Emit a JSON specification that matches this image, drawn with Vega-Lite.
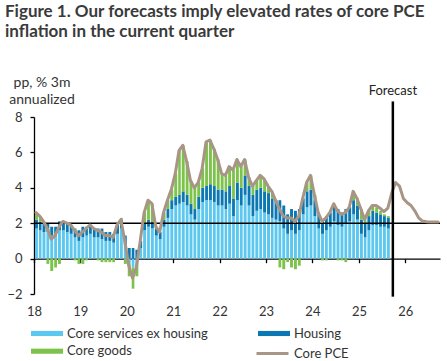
{
  "$schema": "https://vega.github.io/schema/vega-lite/v6.json",
  "width": 406,
  "height": 177,
  "autosize": "none",
  "padding": {"left": 34, "top": 117, "right": 7, "bottom": 67},
  "background": "white",
  "config": {
    "font": "Lato",
    "view": {"stroke": null},
    "axis": {"grid": false, "labelFont": "Lato", "titleFont": "Lato"},
    "axisY": {"labelOverlap": false, "labelFlush": false},
    "axisX": {"labelOverlap": false, "labelFlush": false},
    "legend": {"labelFont": "Lato"}
  },
  "title": {
    "text": ["Figure 1. Our forecasts imply elevated rates of core PCE", "inflation in the current quarter"],
    "anchor": "start",
    "frame": "group",
    "dx": -29,
    "offset": 34,
    "fontSize": 17,
    "font": "Lato",
    "fontWeight": "bold",
    "color": "#3a3a3a",
    "lineHeight": 20
  },
  "datasets": {
    "m": [
      {"d":"2018-01-01","S":1.7,"H":0.5,"G":0.4,"P":2.6},
      {"d":"2018-02-01","S":1.6,"H":0.5,"G":0.3,"P":2.4},
      {"d":"2018-03-01","S":1.5,"H":0.5,"G":0.1,"P":2.1},
      {"d":"2018-04-01","S":1.5,"H":0.5,"G":-0.3,"P":1.7},
      {"d":"2018-05-01","S":1.3,"H":0.5,"G":-0.7,"P":1.1},
      {"d":"2018-06-01","S":1.3,"H":0.5,"G":-0.5,"P":1.3},
      {"d":"2018-07-01","S":1.6,"H":0.5,"G":-0.3,"P":1.8},
      {"d":"2018-08-01","S":1.6,"H":0.5,"G":0.0,"P":2.1},
      {"d":"2018-09-01","S":1.5,"H":0.5,"G":0.0,"P":2.0},
      {"d":"2018-10-01","S":1.4,"H":0.5,"G":0.0,"P":1.9},
      {"d":"2018-11-01","S":1.2,"H":0.5,"G":-0.1,"P":1.6},
      {"d":"2018-12-01","S":1.0,"H":0.6,"G":-0.3,"P":1.3},
      {"d":"2019-01-01","S":1.2,"H":0.6,"G":-0.3,"P":1.5},
      {"d":"2019-02-01","S":1.3,"H":0.5,"G":-0.1,"P":1.7},
      {"d":"2019-03-01","S":1.4,"H":0.5,"G":0.0,"P":1.9},
      {"d":"2019-04-01","S":1.2,"H":0.5,"G":0.0,"P":1.7},
      {"d":"2019-05-01","S":1.2,"H":0.5,"G":-0.1,"P":1.6},
      {"d":"2019-06-01","S":1.1,"H":0.6,"G":-0.2,"P":1.5},
      {"d":"2019-07-01","S":1.0,"H":0.5,"G":-0.2,"P":1.3},
      {"d":"2019-08-01","S":1.0,"H":0.5,"G":-0.2,"P":1.3},
      {"d":"2019-09-01","S":0.9,"H":0.5,"G":-0.2,"P":1.2},
      {"d":"2019-10-01","S":1.4,"H":0.5,"G":0.0,"P":1.9},
      {"d":"2019-11-01","S":1.7,"H":0.5,"G":0.1,"P":2.2},
      {"d":"2019-12-01","S":0.8,"H":0.5,"G":-0.3,"P":1.0},
      {"d":"2020-01-01","S":-0.3,"H":0.6,"G":-0.7,"P":-0.4},
      {"d":"2020-02-01","S":-0.5,"H":0.6,"G":-1.2,"P":-1.1},
      {"d":"2020-03-01","S":-0.3,"H":0.5,"G":-0.7,"P":-0.5},
      {"d":"2020-04-01","S":0.6,"H":0.4,"G":0.0,"P":1.0},
      {"d":"2020-05-01","S":1.6,"H":0.4,"G":0.6,"P":2.6},
      {"d":"2020-06-01","S":1.8,"H":0.4,"G":1.1,"P":3.3},
      {"d":"2020-07-01","S":1.7,"H":0.4,"G":1.0,"P":3.1},
      {"d":"2020-08-01","S":1.3,"H":0.4,"G":0.1,"P":1.8},
      {"d":"2020-09-01","S":1.1,"H":0.4,"G":0.0,"P":1.5},
      {"d":"2020-10-01","S":1.8,"H":0.4,"G":0.4,"P":2.6},
      {"d":"2020-11-01","S":2.3,"H":0.5,"G":0.5,"P":3.3},
      {"d":"2020-12-01","S":2.8,"H":0.5,"G":0.6,"P":3.9},
      {"d":"2021-01-01","S":3.0,"H":0.5,"G":1.3,"P":4.8},
      {"d":"2021-02-01","S":3.1,"H":0.5,"G":2.5,"P":6.1},
      {"d":"2021-03-01","S":3.2,"H":0.6,"G":2.6,"P":6.4},
      {"d":"2021-04-01","S":3.0,"H":0.6,"G":1.9,"P":5.5},
      {"d":"2021-05-01","S":2.5,"H":0.6,"G":1.3,"P":4.4},
      {"d":"2021-06-01","S":2.2,"H":0.6,"G":1.2,"P":4.0},
      {"d":"2021-07-01","S":2.8,"H":0.7,"G":0.8,"P":4.3},
      {"d":"2021-08-01","S":3.2,"H":0.8,"G":1.1,"P":5.1},
      {"d":"2021-09-01","S":3.3,"H":0.8,"G":2.5,"P":6.6},
      {"d":"2021-10-01","S":3.3,"H":0.9,"G":2.5,"P":6.7},
      {"d":"2021-11-01","S":3.2,"H":0.9,"G":2.1,"P":6.2},
      {"d":"2021-12-01","S":3.0,"H":0.9,"G":1.7,"P":5.6},
      {"d":"2022-01-01","S":3.0,"H":0.9,"G":0.9,"P":4.8},
      {"d":"2022-02-01","S":2.8,"H":1.0,"G":0.9,"P":4.7},
      {"d":"2022-03-01","S":3.1,"H":1.0,"G":1.1,"P":5.2},
      {"d":"2022-04-01","S":2.4,"H":1.0,"G":1.6,"P":5.0},
      {"d":"2022-05-01","S":3.3,"H":1.0,"G":1.3,"P":5.6},
      {"d":"2022-06-01","S":3.0,"H":1.0,"G":1.2,"P":5.2},
      {"d":"2022-07-01","S":3.6,"H":1.1,"G":0.9,"P":5.6},
      {"d":"2022-08-01","S":3.0,"H":1.1,"G":0.5,"P":4.6},
      {"d":"2022-09-01","S":2.4,"H":1.2,"G":0.5,"P":4.1},
      {"d":"2022-10-01","S":2.7,"H":1.2,"G":0.5,"P":4.4},
      {"d":"2022-11-01","S":2.8,"H":1.2,"G":0.7,"P":4.7},
      {"d":"2022-12-01","S":2.6,"H":1.2,"G":0.7,"P":4.5},
      {"d":"2023-01-01","S":2.5,"H":1.2,"G":0.4,"P":4.1},
      {"d":"2023-02-01","S":2.3,"H":1.1,"G":0.4,"P":3.8},
      {"d":"2023-03-01","S":2.2,"H":1.1,"G":0.0,"P":3.3},
      {"d":"2023-04-01","S":2.1,"H":1.2,"G":-0.5,"P":2.8},
      {"d":"2023-05-01","S":1.7,"H":1.3,"G":-0.6,"P":2.4},
      {"d":"2023-06-01","S":1.4,"H":1.1,"G":-0.2,"P":2.3},
      {"d":"2023-07-01","S":1.6,"H":1.2,"G":-0.5,"P":2.3},
      {"d":"2023-08-01","S":1.4,"H":1.3,"G":-0.6,"P":2.1},
      {"d":"2023-09-01","S":1.6,"H":1.2,"G":-0.4,"P":2.4},
      {"d":"2023-10-01","S":2.5,"H":0.9,"G":0.0,"P":3.4},
      {"d":"2023-11-01","S":2.9,"H":0.9,"G":0.5,"P":4.3},
      {"d":"2023-12-01","S":3.0,"H":0.9,"G":0.8,"P":4.7},
      {"d":"2024-01-01","S":2.4,"H":0.9,"G":0.3,"P":3.6},
      {"d":"2024-02-01","S":1.7,"H":0.8,"G":0.1,"P":2.6},
      {"d":"2024-03-01","S":1.4,"H":0.8,"G":-0.1,"P":2.1},
      {"d":"2024-04-01","S":1.6,"H":0.8,"G":-0.1,"P":2.3},
      {"d":"2024-05-01","S":1.8,"H":0.8,"G":0.0,"P":2.6},
      {"d":"2024-06-01","S":2.1,"H":0.9,"G":0.1,"P":3.1},
      {"d":"2024-07-01","S":1.9,"H":0.9,"G":-0.1,"P":2.7},
      {"d":"2024-08-01","S":1.8,"H":0.8,"G":-0.1,"P":2.5},
      {"d":"2024-09-01","S":2.0,"H":0.8,"G":-0.2,"P":2.6},
      {"d":"2024-10-01","S":2.1,"H":0.8,"G":0.0,"P":2.9},
      {"d":"2024-11-01","S":2.5,"H":0.8,"G":0.5,"P":3.8},
      {"d":"2024-12-01","S":2.2,"H":0.8,"G":0.4,"P":3.4},
      {"d":"2025-01-01","S":1.4,"H":0.8,"G":0.6,"P":2.8},
      {"d":"2025-02-01","S":1.2,"H":0.8,"G":0.2,"P":2.2},
      {"d":"2025-03-01","S":1.6,"H":0.8,"G":0.3,"P":2.7},
      {"d":"2025-04-01","S":1.9,"H":0.8,"G":0.3,"P":3.0},
      {"d":"2025-05-01","S":1.9,"H":0.7,"G":0.3,"P":3.0},
      {"d":"2025-06-01","S":1.8,"H":0.7,"G":0.2,"P":2.85},
      {"d":"2025-07-01","S":1.8,"H":0.6,"G":0.1,"P":2.65},
      {"d":"2025-08-01","S":1.7,"H":0.6,"G":0.1,"P":2.85},
      {"d":"2025-09-01","P":3.7},
      {"d":"2025-10-01","P":4.3},
      {"d":"2025-11-01","P":4.1},
      {"d":"2025-12-01","P":3.4},
      {"d":"2026-01-01","P":3.15},
      {"d":"2026-02-01","P":3.0},
      {"d":"2026-03-01","P":2.7},
      {"d":"2026-04-01","P":2.3},
      {"d":"2026-05-01","P":2.12},
      {"d":"2026-06-01","P":2.08},
      {"d":"2026-07-01","P":2.07},
      {"d":"2026-08-01","P":2.07},
      {"d":"2026-09-01","P":2.07}
    ],
    "f": [
      {"d":"2025-09-25","top":8.88,"bottom":-2.15,"y":9.45,"label":"Forecast","ref":2}
    ]
  },
  "layer": [
    {
      "data": {"name": "m"},
      "transform": [
        {"fold": ["S","H","G"], "as": ["k","v"]},
        {"filter": "isValid(datum.v)"}
      ],
      "mark": {"type": "bar"},
      "encoding": {
        "x": {
          "field": "d", "timeUnit": "utcyearmonth", "type": "temporal",
          "scale": {"domain": [{"year":2018,"month":1,"date":1,"utc":true},{"year":2026,"month":10,"date":1,"utc":true}]},
          "axis": {
            "orient": "bottom",
            "offset": -35.3,
            "values": [
              {"year":2018,"month":1,"date":1,"utc":true},
              {"year":2019,"month":1,"date":1,"utc":true},
              {"year":2020,"month":1,"date":1,"utc":true},
              {"year":2021,"month":1,"date":1,"utc":true},
              {"year":2022,"month":1,"date":1,"utc":true},
              {"year":2023,"month":1,"date":1,"utc":true},
              {"year":2024,"month":1,"date":1,"utc":true},
              {"year":2025,"month":1,"date":1,"utc":true},
              {"year":2026,"month":1,"date":1,"utc":true}
            ],
            "format": "%y",
            "title": null,
            "domainColor": "#000",
            "domainWidth": 1.3,
            "tickColor": "#000",
            "tickWidth": 1.3,
            "tickSize": 4,
            "labelPadding": 43,
            "labelFontSize": 13,
            "labelColor": "#333",
            "labelFlush": false,
            "labelOverlap": false
          }
        },
        "y": {
          "field": "v", "type": "quantitative", "stack": "zero",
          "scale": {"domain": [-2, 8], "nice": false, "zero": false},
          "axis": {
            "values": [-2, 0, 2, 4, 6, 8],
            "title": ["pp, % 3m", "annualized"],
            "titleAngle": 0,
            "titleAlign": "center",
            "titleBaseline": "top",
            "titleX": 7.5,
            "titleY": -42,
            "titleFontSize": 14,
            "titleFontWeight": "normal",
            "titleColor": "#333",
            "titleLineHeight": 17,
            "domainColor": "#000",
            "domainWidth": 1.3,
            "tickColor": "#000",
            "tickWidth": 1.3,
            "tickSize": 4,
            "labelPadding": 8,
            "labelFontSize": 13,
            "labelColor": "#333",
            "labelOverlap": false,
            "labelFlush": false
          }
        },
        "order": {"field": "k", "sort": "descending"},
        "fill": {
          "field": "k", "type": "nominal",
          "scale": {"domain": ["S","H","G"], "range": ["#5cc8ef","#0b78b3","#7dc24b"]},
          "legend": {
            "orient": "none",
            "direction": "horizontal",
            "legendX": 5,
            "legendY": 208.5,
            "columns": 2,
            "columnPadding": 50,
            "rowPadding": 2.7,
            "padding": 0,
            "title": null,
            "symbolType": "M-2,-0.32L2,-0.32L2,0.32L-2,0.32Z",
            "symbolSize": 256,
            "symbolStrokeWidth": 0,
            "labelFontSize": 13,
            "labelColor": "#333",
            "labelOffset": 12,
            "labelExpr": "datum.label == 'S' ? 'Core services ex housing' : datum.label == 'H' ? 'Housing' : 'Core goods'"
          }
        }
      }
    },
    {
      "data": {"name": "f"},
      "mark": {"type": "rule", "color": "#000", "strokeWidth": 1.5},
      "encoding": {"y": {"field": "ref", "type": "quantitative", "axis": {"values": [-2, 0, 2, 4, 6, 8], "labelOverlap": false}}}
    },
    {
      "data": {"name": "m"},
      "mark": {"type": "line", "strokeWidth": 3, "strokeJoin": "round", "strokeCap": "round"},
      "encoding": {
        "x": {"field": "d", "timeUnit": "utcyearmonth", "type": "temporal", "bandPosition": 0.5},
        "y": {"field": "P", "type": "quantitative", "axis": {"values": [-2, 0, 2, 4, 6, 8], "labelOverlap": false}},
        "stroke": {
          "datum": "Core PCE",
          "scale": {"range": ["#a89585"]},
          "legend": {
            "orient": "none",
            "legendX": 221,
            "legendY": 219,
            "padding": 0,
            "title": null,
            "symbolType": "stroke",
            "symbolSize": 1024,
            "symbolStrokeWidth": 3,
            "labelFontSize": 13,
            "labelColor": "#333",
            "labelOffset": 4
          }
        }
      }
    },
    {
      "data": {"name": "f"},
      "mark": {"type": "rule", "color": "#000", "strokeWidth": 2.5},
      "encoding": {
        "x": {"field": "d", "type": "temporal"},
        "y": {"field": "top", "type": "quantitative", "axis": {"values": [-2, 0, 2, 4, 6, 8], "labelOverlap": false}},
        "y2": {"field": "bottom"}
      }
    },
    {
      "data": {"name": "f"},
      "mark": {"type": "text", "fontSize": 13, "color": "#222", "baseline": "middle", "align": "center"},
      "encoding": {
        "x": {"field": "d", "type": "temporal"},
        "y": {"field": "y", "type": "quantitative", "axis": {"values": [-2, 0, 2, 4, 6, 8], "labelOverlap": false}},
        "text": {"field": "label"}
      }
    }
  ]
}
